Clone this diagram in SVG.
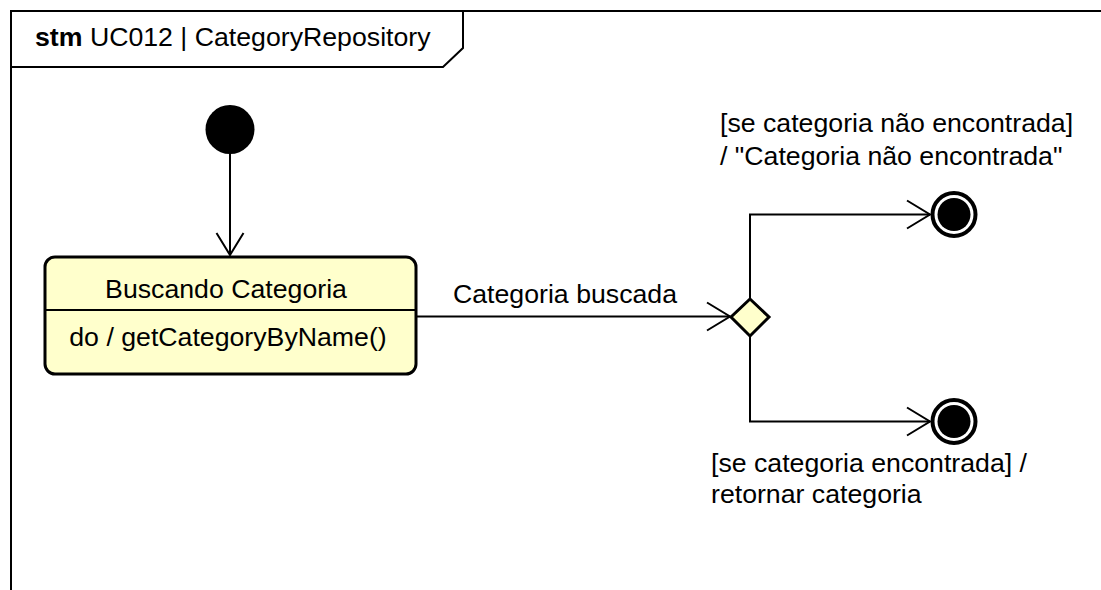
<svg xmlns="http://www.w3.org/2000/svg" width="1101" height="590" viewBox="0 0 1101 590">
<style>
  text { font-family: "Liberation Sans", Arial, sans-serif; font-size: 26.7px; fill: #000; }
  .frame { fill: none; stroke: #000; stroke-width: 2; }
  .edge { fill: none; stroke: #000; stroke-width: 2; }
  .state { fill: #FFFFCC; stroke: #000; stroke-width: 3; }
</style>
<rect width="1101" height="590" fill="#fff"/>
<g id="frame">
  <path class="frame" d="M11,600 L11,11 L1110,11"/>
  <path class="frame" d="M11,67 L443,67 L463,48 L463,11"/>
  <text x="35" y="46"><tspan font-weight="bold">stm</tspan> UC012 | CategoryRepository</text>
</g>
<g id="connectors">
  <path class="edge" d="M230,154 L230,255"/>
  <path class="edge" d="M216.5,233 L230,255 L243.5,233"/>
  <path class="edge" d="M416,316.5 L730,316.5"/>
  <path class="edge" d="M707,302.5 L730,316.5 L707,330.5"/>
  <path class="edge" d="M750,299 L750,214.5 L930,214.5"/>
  <path class="edge" d="M907,200.5 L930,214.5 L907,228.5"/>
  <path class="edge" d="M750,336 L750,421.5 L930,421.5"/>
  <path class="edge" d="M907,407.5 L930,421.5 L907,435.5"/>
  <text x="453" y="303">Categoria buscada</text>
  <text x="720" y="132">[se categoria não encontrada]</text>
  <text x="720" y="165">/ "Categoria não encontrada"</text>
  <text x="711" y="472">[se categoria encontrada] /</text>
  <text x="711" y="503">retornar categoria</text>
</g>
<g id="initial">
  <circle cx="230" cy="129.5" r="24.5" fill="#000"/>
</g>
<g id="buscando">
  <rect class="state" x="45" y="257" width="371" height="117" rx="10" ry="10"/>
  <line x1="45" y1="310" x2="416" y2="310" stroke="#000" stroke-width="2"/>
  <text x="226" y="298" text-anchor="middle">Buscando Categoria</text>
  <text x="228" y="346" text-anchor="middle">do / getCategoryByName()</text>
</g>
<g id="decision">
  <polygon class="state" points="750,299 769,317 750,336 731,317"/>
</g>
<g id="final1">
  <circle cx="954" cy="214.5" r="21.5" fill="#fff" stroke="#000" stroke-width="4"/>
  <circle cx="954" cy="214.5" r="16.5" fill="#000"/>
</g>
<g id="final2">
  <circle cx="954" cy="421.5" r="21.5" fill="#fff" stroke="#000" stroke-width="4"/>
  <circle cx="954" cy="421.5" r="16.5" fill="#000"/>
</g>
</svg>
